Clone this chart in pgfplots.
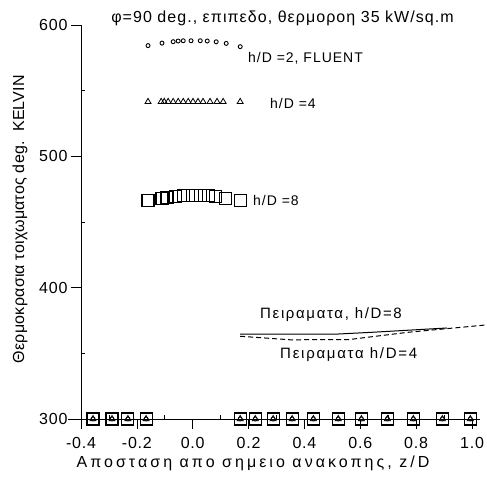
\documentclass[border=0pt]{standalone}
\usepackage{fontspec}
\setmainfont{Liberation Sans}
\newfontfamily\tickfont[LetterSpace=5]{Liberation Sans}
\newcommand\ls[1]{\addfontfeatures{LetterSpace=#1}}
\usepackage{pgfplots}
\pgfplotsset{compat=1.18}
\begin{document}
\begin{tikzpicture}[x=1pt,y=1pt]
\useasboundingbox (0,0) rectangle (487,477);
\begin{axis}[
  at={(81pt,58pt)}, anchor=south west,
  scale only axis, width=391pt, height=394pt,
  xmin=-0.4, xmax=1.0, ymin=300, ymax=600,
  axis x line*=bottom, axis y line*=left,
  axis line style={-, line width=0.8pt},
  xtick={-0.4,-0.2,0,0.2,0.4,0.6,0.8,1.0},
  ytick={300,400,500,600},
  minor x tick num=1, minor y tick num=1,
  tick align=outside,
  major tick length=10pt, minor tick length=-4pt,
  tick style={line width=0.7pt, black},
  xticklabel style={/pgf/number format/fixed, /pgf/number format/fixed zerofill, /pgf/number format/precision=1, yshift=-5pt},
  /pgf/number format/assume math mode=true,
  ticklabel style={font=\tickfont\fontsize{16}{19}\selectfont},
  clip=false,
]
% h/D=2 FLUENT (circles)
\addplot[only marks, mark=o, mark size=2pt, mark options={line width=0.9pt}] coordinates {
(-0.160,584.3) (-0.110,586.2) (-0.070,587.3) (-0.052,587.8) (-0.034,588.0) (-0.006,588.0)
(0.027,588.0) (0.052,587.8) (0.084,587.2) (0.120,586.0) (0.170,583.5)};
% h/D=4 (triangles)
\addplot[only marks, mark=triangle, mark size=3.5pt, mark options={line width=0.8pt}] coordinates {
(-0.160,541.5) (-0.113,541.5) (-0.102,541.5) (-0.088,541.5) (-0.070,541.5) (-0.052,541.5)
(-0.034,541.5) (-0.016,541.5) (0.001,541.5) (0.019,541.5) (0.037,541.5) (0.062,541.5)
(0.087,541.5) (0.109,541.5) (0.170,541.5)};
% h/D=8 (squares)
\addplot[only marks, mark=square, mark size=6pt, mark options={line width=1.1pt}] coordinates {
(-0.160,466.5) (-0.110,468.0) (-0.092,468.5) (-0.063,469.5) (-0.034,470.0) (-0.002,470.5)
(0.027,470.5) (0.055,470.0) (0.080,469.5) (0.116,468.0) (0.170,466.5)};
% wall region at 300 K
\addplot[only marks, mark=square, mark size=6pt, mark options={line width=1.1pt}] coordinates {
(-0.357,300) (-0.289,300) (-0.232,300) (-0.167,300) (0.170,300) (0.224,300) (0.288,300)
(0.356,300) (0.432,300) (0.521,300) (0.604,300) (0.697,300) (0.790,300) (0.894,300) (0.994,300)};
\addplot[only marks, mark=triangle, mark size=3.5pt, mark options={line width=0.8pt}] coordinates {
(-0.357,300) (-0.289,300) (-0.232,300) (-0.167,300) (0.170,300) (0.224,300) (0.288,300)
(0.356,300) (0.432,300) (0.521,300) (0.604,300) (0.697,300) (0.790,300) (0.894,300) (0.994,300)};
\addplot[only marks, mark=o, mark size=2pt, mark options={line width=0.8pt}] coordinates {
(-0.357,300) (-0.289,300) (-0.232,300) (-0.167,300) (0.170,300) (0.224,300) (0.288,300)
(0.356,300) (0.432,300) (0.521,300) (0.604,300) (0.697,300) (0.790,300) (0.894,300) (0.994,300)};
% experiments
\addplot[line width=1pt] coordinates {(0.17,364.7) (0.52,364.7) (0.64,366.0) (0.91,369.3)};
\addplot[line width=1pt, dash pattern=on 5pt off 3pt] coordinates {(0.17,363.0) (0.35,360.3) (0.56,360.5) (0.77,366.0) (1.05,371.6)};
\draw[line width=0.8pt] (axis cs:-0.447,300) -- (axis cs:1.03,300);
\end{axis}
\node[font=\fontsize{16}{19}\selectfont\ls{6.6}] at (282.5,459) {φ=90 deg., επιπεδο, θερμοροη 35 kW/sq.m};
\node[anchor=west, inner sep=0pt, font=\fontsize{14}{16}\selectfont\ls{7}] at (248,419) {h/D =2, FLUENT};
\node[anchor=west, inner sep=0pt, font=\fontsize{14}{16}\selectfont\ls{7}] at (270,374) {h/D =4};
\node[anchor=west, inner sep=0pt, font=\fontsize{14}{16}\selectfont\ls{7}] at (253,277) {h/D =8};
\node[anchor=west, inner sep=0pt, font=\fontsize{15}{17}\selectfont\ls{11}] at (260,162) {Πειραματα, h/D=8};
\node[anchor=west, inner sep=0pt, font=\fontsize{15}{17}\selectfont\ls{11.6}] at (280,122) {Πειραματα h/D=4};
\node[rotate=90, font=\fontsize{16}{19}\selectfont\ls{1.5}] at (20,258) {Θερμοκρασια τοιχωματος deg.\ \ KELVIN};
\node[font=\fontsize{16}{19}\selectfont\ls{19}] at (253,14) {Αποσταση απο σημειο ανακοπης, z/D};
\end{tikzpicture}
\end{document}
